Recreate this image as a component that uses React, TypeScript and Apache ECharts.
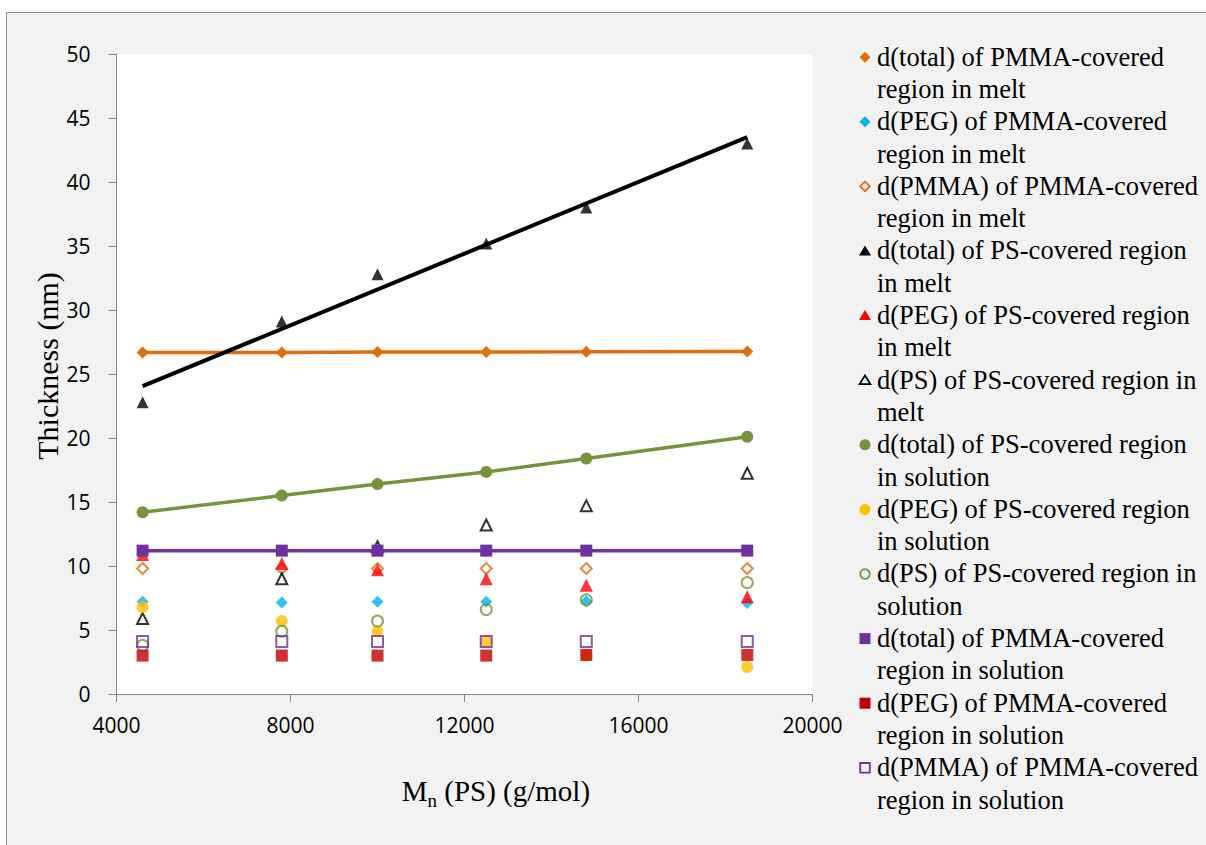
import { useEffect, useRef } from "react";
import * as echarts from "echarts";

// Molecular weight Mn(PS) (g/mol)
const xValues = [4600, 7800, 10000, 12500, 14800, 18500];

// Thickness values (nm)
const totalPmmaMelt = [26.68, 26.68, 26.72, 26.72, 26.73, 26.76];
const pegPmmaMelt = [7.2, 7.15, 7.2, 7.2, 7.25, 7.1];
const pmmaPmmaMelt = [9.8, 9.8, 9.8, 9.8, 9.8, 9.8];
const totalPsMelt = [22.8, 29.1, 32.8, 35.2, 38.0, 43.0];
const pegPsMelt = [10.9, 10.2, 9.7, 9.0, 8.5, 7.6];
const psPsMelt = [5.9, 9.0, 11.5, 13.2, 14.7, 17.25];
const totalPsSol = [14.2, 15.5, 16.4, 17.35, 18.4, 20.1];
const pegPsSol = [6.8, 5.7, 4.9, 4.1, 3.0, 2.1];
const psPsSol = [3.8, 4.9, 5.7, 6.6, 7.35, 8.7];
const totalPmmaSol = [11.2, 11.2, 11.2, 11.2, 11.2, 11.2];
const pegPmmaSol = [3.0, 3.0, 3.0, 3.0, 3.05, 3.05];
const pmmaPmmaSol = [4.1, 4.1, 4.1, 4.1, 4.1, 4.1];

// Linear trendline of d(total) of PS-covered region in melt (end values)
const trendX = [4600, 18500];
const trendTotalPsMelt = [24.05, 43.5];

// Axis ticks
const yTicks = { min: 0, max: 50, interval: 5 };
const xTicks = { min: 4000, max: 20000, interval: 4000 };

// Legend labels (as wrapped in the reference)
const legendLabels = [
  "d(total) of PMMA-covered\nregion in melt",
  "d(PEG) of PMMA-covered\nregion in melt",
  "d(PMMA) of PMMA-covered\nregion in melt",
  "d(total) of PS-covered region\nin melt",
  "d(PEG) of PS-covered region\nin melt",
  "d(PS) of PS-covered region in\nmelt",
  "d(total) of PS-covered region\nin solution",
  "d(PEG) of PS-covered region\nin solution",
  "d(PS) of PS-covered region in\nsolution",
  "d(total) of PMMA-covered\nregion in solution",
  "d(PEG) of PMMA-covered\nregion in solution",
  "d(PMMA) of PMMA-covered\nregion in solution",
];

type Sym = "diamond" | "triangle" | "circle" | "rect";
type Spec = {
  data: number[];
  color: string;
  symbol: Sym;
  size: number;
  open?: boolean;
  line?: boolean;
};

const specs: Spec[] = [
  { data: totalPmmaMelt, color: "#E46C0A", symbol: "diamond", size: 12, line: true },
  { data: pegPmmaMelt, color: "#00B0F0", symbol: "diamond", size: 12 },
  { data: pmmaPmmaMelt, color: "#E46C0A", symbol: "diamond", size: 11, open: true },
  { data: totalPsMelt, color: "#000000", symbol: "triangle", size: 12 },
  { data: pegPsMelt, color: "#FF0000", symbol: "triangle", size: 13 },
  { data: psPsMelt, color: "#000000", symbol: "triangle", size: 11, open: true },
  { data: totalPsSol, color: "#77933C", symbol: "circle", size: 12, line: true },
  { data: pegPsSol, color: "#FFC000", symbol: "circle", size: 12 },
  { data: psPsSol, color: "#77933C", symbol: "circle", size: 11, open: true },
  { data: totalPmmaSol, color: "#7030A0", symbol: "rect", size: 12, line: true },
  { data: pegPmmaSol, color: "#C00000", symbol: "rect", size: 12 },
  { data: pmmaPmmaSol, color: "#7030A0", symbol: "rect", size: 11, open: true },
];

const SERIF = "'Liberation Serif', 'Times New Roman', serif";
const SANS = "'Open Sans', Lato, sans-serif";

function legendMarker(s: Spec, cx: number, cy: number): any {
  const style: any = s.open
    ? { fill: "none", stroke: s.color, lineWidth: 1.8 }
    : { fill: s.color };
  const h = s.open ? 4.8 : 5.5;
  switch (s.symbol) {
    case "diamond":
      return {
        type: "polygon",
        shape: { points: [[cx, cy - h], [cx + h, cy], [cx, cy + h], [cx - h, cy]] },
        style,
        z: 20,
      };
    case "triangle":
      return {
        type: "polygon",
        shape: { points: [[cx, cy - h], [cx + h + 0.5, cy + h * 0.8], [cx - h - 0.5, cy + h * 0.8]] },
        style,
        z: 20,
      };
    case "circle":
      return { type: "circle", shape: { cx, cy, r: h }, style, z: 20 };
    default:
      return {
        type: "rect",
        shape: { x: cx - h, y: cy - h, width: 2 * h, height: 2 * h },
        style,
        z: 20,
      };
  }
}

export default function App() {
  const ref = useRef<HTMLDivElement>(null);

  useEffect(() => {
    if (!ref.current) return;
    const chart = echarts.init(ref.current, undefined, { renderer: "svg" });

    const series: any[] = [];
    specs.forEach((s, i) => {
      const pts = xValues.map((x, k) => [x, s.data[k]]);
      const itemStyle = s.open
        ? { color: "rgba(255,255,255,0)", borderColor: s.color, borderWidth: 2 }
        : { color: s.color, borderWidth: 0 };
      if (s.line) {
        series.push({
          name: legendLabels[i],
          type: "line",
          data: pts,
          symbol: s.symbol,
          symbolSize: s.size,
          showSymbol: true,
          lineStyle: { color: s.color, width: 3.5 },
          itemStyle,
          z: 2 + i * 0.01,
        });
      } else {
        series.push({
          name: legendLabels[i],
          type: "scatter",
          data: pts,
          symbol: s.symbol,
          symbolSize: s.size,
          itemStyle,
          z: 2 + i * 0.01,
        });
      }
      if (i === 3) {
        series.push({
          name: "trend",
          type: "line",
          data: trendX.map((x, k) => [x, trendTotalPsMelt[k]]),
          symbol: "none",
          lineStyle: { color: "#000000", width: 4 },
          z: 2 + i * 0.01 + 0.005,
        });
      }
    });

    const graphics: any[] = [
      {
        type: "rect",
        shape: { x: 6.5, y: 12.5, width: 1400, height: 1000 },
        style: { fill: "#F2F2F2", stroke: "#8C8C8C", lineWidth: 1 },
        z: -10,
      },
      {
        type: "text",
        x: 47,
        y: 366,
        rotation: Math.PI / 2,
        style: {
          text: "Thickness (nm)",
          fontFamily: SERIF,
          fontSize: 30,
          fill: "#000",
          align: "center",
          verticalAlign: "middle",
        },
        z: 20,
      },
      {
        type: "text",
        x: 401.7,
        y: 791,
        style: { text: "M", fontFamily: SERIF, fontSize: 29, fill: "#000", align: "left", verticalAlign: "middle" },
        z: 20,
      },
      {
        type: "text",
        x: 427.5,
        y: 800,
        style: { text: "n", fontFamily: SERIF, fontSize: 19, fill: "#000", align: "left", verticalAlign: "middle" },
        z: 20,
      },
      {
        type: "text",
        x: 437,
        y: 791,
        style: { text: " (PS) (g/mol)", fontFamily: SERIF, fontSize: 29, fill: "#000", align: "left", verticalAlign: "middle" },
        z: 20,
      },
    ];

    const lineH = 32.3;
    specs.forEach((s, i) => {
      const cy = 56.7 + i * 2 * lineH;
      graphics.push(legendMarker(s, 865, cy + 0.5));
      graphics.push({
        type: "text",
        x: 877,
        y: cy - lineH / 2,
        style: {
          text: legendLabels[i],
          fontFamily: SERIF,
          fontSize: 26.5,
          lineHeight: lineH,
          fill: "#000",
          align: "left",
          verticalAlign: "top",
        },
        z: 20,
      });
    });

    const axisColor = "#868686";
    const option: any = {
      animation: false,
      backgroundColor: "#FFFFFF",
      grid: {
        left: 116.5,
        top: 54,
        width: 696,
        height: 640,
        show: true,
        backgroundColor: "#FFFFFF",
        borderWidth: 0,
        containLabel: false,
      },
      xAxis: {
        type: "value",
        min: xTicks.min,
        max: xTicks.max,
        interval: xTicks.interval,
        axisLine: { show: true, onZero: false, lineStyle: { color: axisColor, width: 1 } },
        axisTick: { show: true, inside: false, length: 8, lineStyle: { color: axisColor } },
        axisLabel: {
          color: "#000",
          fontFamily: SANS,
          fontSize: 21,
          margin: 20,
          formatter: (v: number) => String(v),
        },
        splitLine: { show: false },
      },
      yAxis: {
        type: "value",
        min: yTicks.min,
        max: yTicks.max,
        interval: yTicks.interval,
        axisLine: { show: true, lineStyle: { color: axisColor, width: 1 } },
        axisTick: { show: true, inside: false, length: 8, lineStyle: { color: axisColor } },
        axisLabel: { color: "#000", fontFamily: SANS, fontSize: 21, margin: 26 },
        splitLine: { show: false },
      },
      graphic: { elements: graphics },
      series,
    };

    chart.setOption(option);
    return () => chart.dispose();
  }, []);

  return (
    <div
      ref={ref}
      style={{ position: "fixed", left: 0, top: 0, width: 1206, height: 845 }}
    />
  );
}
